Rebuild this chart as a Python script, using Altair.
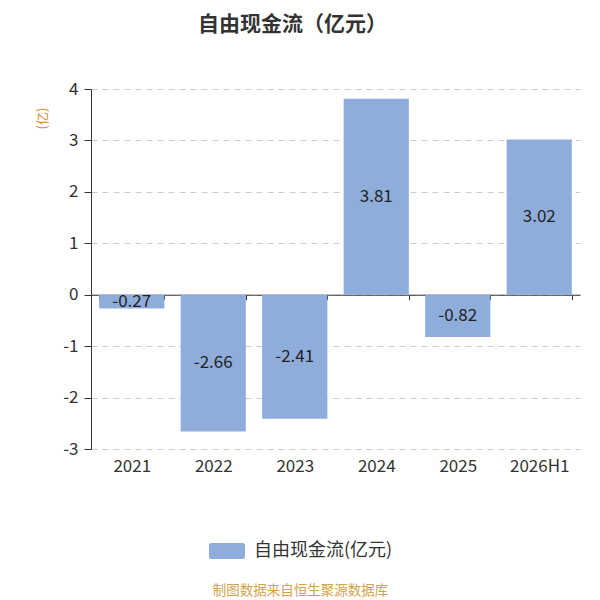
import altair as alt
import pandas as pd

categories = ["2021", "2022", "2023", "2024", "2025", "2026H1"]
values = [-0.27, -2.66, -2.41, 3.81, -0.82, 3.02]
series_name = "自由现金流(亿元)"
y_ticks = [-3, -2, -1, 0, 1, 2, 3, 4]

df = pd.DataFrame({"cat": categories, "val": values, "series": [series_name] * len(categories)})
df["mid"] = df["val"] / 2
df["lab"] = df["val"].map(lambda v: f"{v:.2f}")

FONT = "Noto Sans CJK SC"
H = 360
W = 489
zero_off = -(0 - (-3)) / 7 * H

x_enc = alt.X(
    "cat:N",
    sort=categories,
    scale=alt.Scale(paddingInner=0.2, paddingOuter=0.1),
    axis=alt.Axis(
        offset=zero_off,
        domain=True,
        domainColor="#333333",
        ticks=True,
        tickColor="#333333",
        tickSize=5,
        tickBand="extent",
        labelAngle=0,
        labelFontSize=17,
        labelColor="#333333",
        labelFont=FONT,
        labelPadding=159,
        grid=False,
        title="制图数据来自恒生聚源数据库",
        titleFont=FONT,
        titleFontSize=13.5,
        titleFontWeight="normal",
        titleColor="#d4a24c",
        titleX=209,
        titleAlign="center",
        titleY=296,
        titleBaseline="middle",
    ),
)

bars = alt.Chart(df).mark_bar(color="#8faddb").encode(
    x=x_enc,
    y=alt.Y(
        "val:Q",
        scale=alt.Scale(domain=[-3, 4], nice=False),
        axis=alt.Axis(
            values=y_ticks,
            labelExpr="'' + datum.value",
            domain=True,
            domainColor="#333333",
            ticks=True,
            tickColor="#333333",
            tickSize=7,
            labelFontSize=17,
            labelColor="#333333",
            labelFont=FONT,
            labelPadding=6,
            grid=True,
            gridColor="#cccccc",
            gridDash=[6, 5],
            title="(亿)",
            titleFont=FONT,
            titleFontSize=13,
            titleFontWeight="normal",
            titleColor="#e08a2c",
            titleAngle=-90,
            titleX=-49,
            titleY=29,
            titleAlign="center",
            titleBaseline="middle",
        ),
    ),
    color=alt.Color(
        "series:N",
        scale=alt.Scale(range=["#8faddb"]),
        legend=alt.Legend(
            title=None,
            orient="none",
            legendX=118,
            legendY=444,
            padding=0,
            symbolType="M-0.88,-0.45H0.88Q1,-0.45 1,-0.33V0.33Q1,0.45 0.88,0.45H-0.88Q-1,0.45 -1,0.33V-0.33Q-1,-0.45 -0.88,-0.45Z",
            symbolSize=1296,
            symbolStrokeWidth=0,
            symbolOpacity=1,
            labelFontSize=18,
            labelColor="#333333",
            labelFont=FONT,
            labelOffset=9,
        ),
    ),
)

texts = alt.Chart(df).mark_text(fontSize=17, color="#222222", font=FONT, baseline="middle").encode(
    x=alt.X("cat:N", sort=categories),
    y=alt.Y("mid:Q"),
    text="lab:N",
)

chart = (
    alt.layer(bars, texts)
    .properties(
        width=W,
        height=H,
        autosize=alt.AutoSizeParams(type="none"),
        padding={"left": 83, "top": 81, "right": 12, "bottom": 151},
        title=alt.TitleParams(
            text="自由现金流（亿元）",
            font=FONT,
            fontSize=21,
            fontWeight="bold",
            color="#333333",
            anchor="middle",
            dx=-43,
            offset=45,
        ),
    )
    .configure_view(stroke=None)
)

chart.save("out.html", embed_options={"renderer": "svg", "actions": False})
